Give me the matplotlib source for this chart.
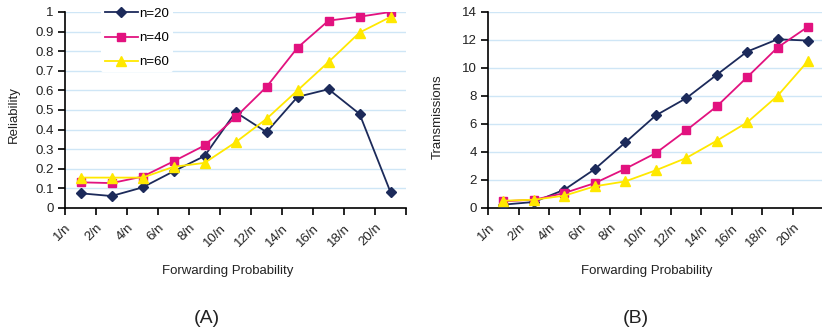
import matplotlib.pyplot as plt
import numpy as np

plt.rcParams['font.family'] = ['Liberation Sans', 'DejaVu Sans']

# forwarding probability categories
probs = ['1/n', '2/n', '4/n', '6/n', '8/n', '10/n', '12/n', '14/n', '16/n', '18/n', '20/n']

# reliability
rel_n20 = [0.075, 0.061, 0.105, 0.187, 0.265, 0.489, 0.387, 0.567, 0.606, 0.48, 0.08]
rel_n40 = [0.131, 0.127, 0.16, 0.238, 0.319, 0.463, 0.618, 0.818, 0.956, 0.976, 1.0]
rel_n60 = [0.155, 0.155, 0.155, 0.21, 0.23, 0.335, 0.455, 0.6, 0.745, 0.895, 0.975]

# transmissions
tx_n20 = [0.24, 0.43, 1.31, 2.78, 4.68, 6.61, 7.84, 9.51, 11.17, 12.05, 11.96]
tx_n40 = [0.48, 0.59, 1.07, 1.78, 2.80, 3.92, 5.54, 7.25, 9.34, 11.46, 12.95]
tx_n60 = [0.52, 0.59, 0.88, 1.55, 1.90, 2.69, 3.57, 4.80, 6.11, 8.01, 10.5]

c20 = '#1c2a5a'
c40 = '#e2127f'
c60 = '#ffe800'
grid_c = '#cfe6f6'
txt_c = '#222222'

fig = plt.figure(figsize=(8.22, 3.33), dpi=100)
axA = fig.add_axes([0.0791, 0.3754, 0.4149, 0.5886])
axB = fig.add_axes([0.594, 0.3754, 0.4075, 0.5886])

x = np.arange(len(probs))


def draw(ax, s20, s40, s60, ymax, ystep, fmt):
    ax.plot(x, s20, color=c20, lw=1.3, marker='D', ms=5, label='n=20', zorder=3)
    ax.plot(x, s40, color=c40, lw=1.3, marker='s', ms=6, label='n=40', zorder=3)
    ax.plot(x, s60, color=c60, lw=1.3, marker='^', ms=7, label='n=60', zorder=3)
    ax.set_xlim(-0.5, len(probs) - 0.5)
    ax.set_ylim(0, ymax)
    yt = np.arange(0, ymax + ystep / 2, ystep)
    ax.set_yticks(yt)
    ax.set_yticklabels([fmt(v) for v in yt])
    for v in yt[1:]:
        ax.axhline(v, color=grid_c, lw=1.0, zorder=0)
    # category boundaries carry the ticks and labels
    ax.set_xticks(np.arange(-0.5, len(probs) + 0.5, 1.0))
    ax.set_xticklabels(probs + [''], rotation=45, ha='right', va='top',
                       rotation_mode='anchor')
    ax.tick_params(axis='both', direction='out', length=5, width=1.2,
                   labelsize=9.5, colors='black', labelcolor=txt_c)
    ax.tick_params(axis='x', pad=5)
    ax.tick_params(axis='y', pad=3)
    for side in ('top', 'right'):
        ax.spines[side].set_visible(False)
    for side in ('left', 'bottom'):
        ax.spines[side].set_linewidth(1.2)


def fmt_rel(v):
    if abs(v) < 1e-9:
        return '0'
    if abs(v - 1) < 1e-9:
        return '1'
    return '%.1f' % v


draw(axA, rel_n20, rel_n40, rel_n60, 1.0, 0.1, fmt_rel)
draw(axB, tx_n20, tx_n40, tx_n60, 14, 2, lambda v: '%d' % v)

leg = axA.legend(loc='upper left', bbox_to_anchor=(0.085, 1.075), frameon=True,
                 fontsize=9.5, handlelength=2.5, handletextpad=0.15,
                 labelspacing=0.9, borderpad=0.3)
leg.get_frame().set_edgecolor('none')
leg.get_frame().set_facecolor('white')
leg.get_frame().set_alpha(1.0)

fig.text(14 / 822, 0.655, 'Reliability', rotation=90, ha='center',
         va='center', fontsize=9.5, color=txt_c)
fig.text(438 / 822, 0.649, 'Transmissions', rotation=90, ha='center',
         va='center', fontsize=9.5, color=txt_c)
fig.text(0.277, 0.186, 'Forwarding Probability', ha='center', va='center',
         fontsize=9.5, color=txt_c)
fig.text(0.787, 0.186, 'Forwarding Probability', ha='center', va='center',
         fontsize=9.5, color=txt_c)
fig.text(0.252, 0.045, '(A)', ha='center', va='center', fontsize=14,
         color=txt_c)
fig.text(0.773, 0.045, '(B)', ha='center', va='center', fontsize=14,
         color=txt_c)

fig.savefig('out.png', dpi=100)
